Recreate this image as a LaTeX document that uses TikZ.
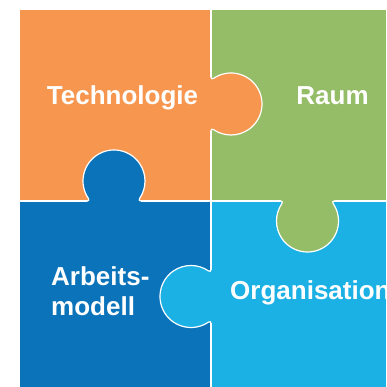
\documentclass[tikz,border=0pt]{standalone}
\usepackage{fontspec}
\setmainfont{Liberation Sans}
\definecolor{porange}{HTML}{F7964F}
\definecolor{pgreen}{HTML}{95BC66}
\definecolor{pdblue}{HTML}{0B73BA}
\definecolor{plblue}{HTML}{1CB1E5}
\newcommand\puzzletab[4]{%
  \begin{scope}[shift={(#1,#2)},rotate=#3]
    \fill[#4] (-1,26.5) -- (0,26.5) .. controls (0,25) and (1.43,24.86) .. (2.67,25.70)
      arc[start angle=124, end angle=-124, radius=31]
      .. controls (1.43,-24.86) and (0,-25) .. (0,-26.5) -- (-1,-26.5) -- cycle;
    \draw[edge] (0,26.5) .. controls (0,25) and (1.43,24.86) .. (2.67,25.70)
      arc[start angle=124, end angle=-124, radius=31]
      .. controls (1.43,-24.86) and (0,-25) .. (0,-26.5);
  \end{scope}}
\begin{document}
\begin{tikzpicture}[x=1pt,y=1pt,
  lbl/.style={font=\bfseries\fontsize{26}{30.3}\selectfont, text=white, inner sep=0pt},
  edge/.style={draw=white, line width=1.2pt}]
\useasboundingbox (0,0) rectangle (386,387);
\clip (0,0) rectangle (386,387);
\fill[porange] (20,186) rectangle (211,377);
\fill[pgreen] (211,186) rectangle (386,377);
\fill[pdblue] (20,0) rectangle (211,186);
\fill[plblue] (211,0) rectangle (386,186);
\draw[edge] (211,0) -- (211,377);
\draw[edge] (20,186) -- (386,186);
\puzzletab{211}{283}{0}{porange}
\puzzletab{114}{186}{90}{pdblue}
\puzzletab{307.5}{186}{-90}{pgreen}
\puzzletab{211}{90.5}{180}{plblue}
\node[lbl, anchor=base] (tech) at (122.5,282) {Technologie};
\node[lbl, anchor=base] (raum) at (332.5,282) {Raum};
\node[lbl, anchor=base west, align=left] (arb) at (51,71) {Arbeits-\\modell};
\node[lbl, anchor=base west] (org) at (230,87) {Organisation};
\end{tikzpicture}
\end{document}
